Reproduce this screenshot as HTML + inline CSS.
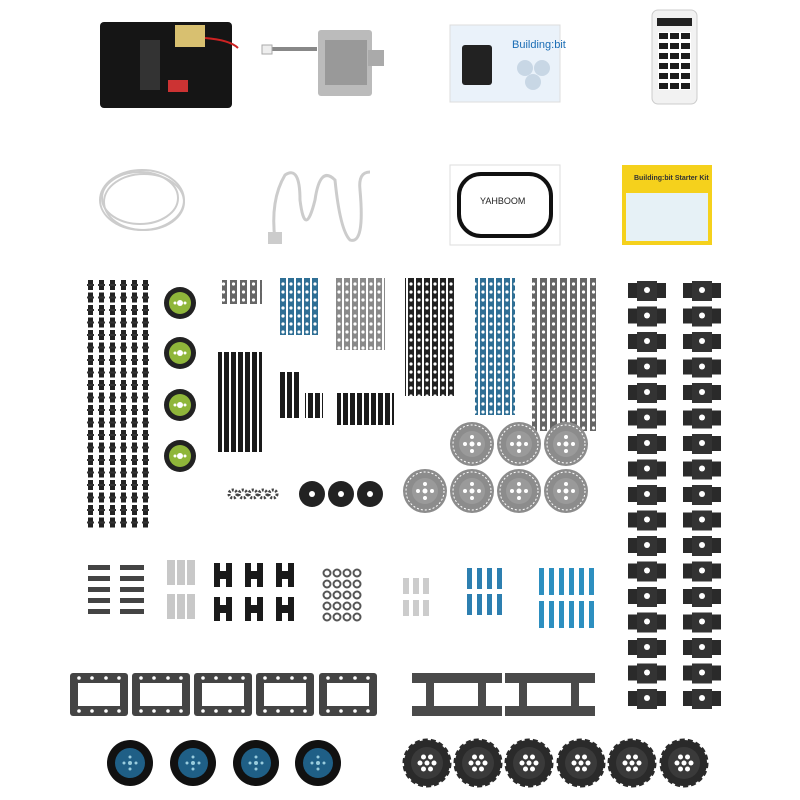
<!DOCTYPE html>
<html><head><meta charset="utf-8"><style>html,body{margin:0;padding:0;background:#fff}svg{display:block}</style></head><body>
<svg width="800" height="800" viewBox="0 0 800 800" xmlns="http://www.w3.org/2000/svg" font-family="Liberation Sans, sans-serif">
<defs>
<pattern id="pins" x="85" y="280" width="11" height="12.5" patternUnits="userSpaceOnUse"><rect x="3" y="0" width="5" height="10" fill="#222"/><rect x="2" y="4" width="7" height="2" fill="#333"/></pattern>
<pattern id="conn" x="625" y="280" width="55" height="25.5" patternUnits="userSpaceOnUse"><rect x="3" y="3" width="38" height="15" fill="#2a2a2a"/><rect x="12" y="1" width="20" height="20" fill="#333"/><circle cx="22" cy="10" r="3" fill="#fff"/></pattern>
<pattern id="beamG" width="8" height="8" patternUnits="userSpaceOnUse"><rect width="6" height="8" fill="#8a8a8a"/><circle cx="3" cy="4" r="1.6" fill="#fff"/></pattern>
<pattern id="beamB" width="8" height="8" patternUnits="userSpaceOnUse"><rect width="6" height="8" fill="#2f6f95"/><circle cx="3" cy="4" r="1.6" fill="#fff"/></pattern>
<pattern id="beamK" width="8" height="8" patternUnits="userSpaceOnUse"><rect width="6" height="8" fill="#222"/><circle cx="3" cy="4" r="1.6" fill="#fff"/></pattern>
<pattern id="beamD" width="10" height="8" patternUnits="userSpaceOnUse"><rect width="7" height="8" fill="#666"/><circle cx="3.5" cy="4" r="1.6" fill="#fff"/></pattern>
<pattern id="rods" width="7" height="10" patternUnits="userSpaceOnUse"><rect width="5" height="10" fill="#1a1a1a"/></pattern>
<pattern id="nuts" x="322" y="568" width="10" height="11" patternUnits="userSpaceOnUse"><circle cx="5" cy="5" r="3.5" fill="none" stroke="#555" stroke-width="2"/></pattern>
<pattern id="bpin" x="465" y="568" width="10" height="26" patternUnits="userSpaceOnUse"><rect x="2" y="0" width="5" height="21" fill="#2d7fb0"/></pattern>
<pattern id="bpin2" x="537" y="568" width="10" height="33" patternUnits="userSpaceOnUse"><rect x="2" y="0" width="5" height="27" fill="#2d8fc0"/></pattern>
<g id="gear"><circle r="22" fill="#8c8c8c"/><circle r="19" fill="none" stroke="#fff" stroke-width="1" stroke-dasharray="2 2"/><circle r="13" fill="#9a9a9a"/><circle r="2.5" fill="#fff"/><circle cx="7" r="2" fill="#fff"/><circle cx="-7" r="2" fill="#fff"/><circle cy="7" r="2" fill="#fff"/><circle cy="-7" r="2" fill="#fff"/></g>
<g id="frame"><rect width="58" height="43" rx="3" fill="#444"/><rect x="8" y="10" width="42" height="23" fill="#fff"/><g fill="#fff"><circle cx="9" cy="5" r="1.8"/><circle cx="22" cy="5" r="1.8"/><circle cx="36" cy="5" r="1.8"/><circle cx="49" cy="5" r="1.8"/><circle cx="9" cy="38" r="1.8"/><circle cx="22" cy="38" r="1.8"/><circle cx="36" cy="38" r="1.8"/><circle cx="49" cy="38" r="1.8"/></g></g>
<g id="hframe"><rect width="90" height="10" fill="#4a4a4a"/><rect y="33" width="90" height="10" fill="#4a4a4a"/><rect x="14" width="8" height="43" fill="#4a4a4a"/><rect x="66" width="8" height="43" fill="#4a4a4a"/></g>
<g id="btire"><circle r="23" fill="#111"/><circle r="15" fill="#1f5f86"/><circle r="2" fill="#9cd"/><circle cx="6" r="1.5" fill="#9cd"/><circle cx="-6" r="1.5" fill="#9cd"/><circle cy="-6" r="1.5" fill="#9cd"/><circle cy="6" r="1.5" fill="#9cd"/></g>
<g id="kwheel"><circle r="23" fill="#2a2a2a" stroke="#2a2a2a" stroke-width="3" stroke-dasharray="5 3"/><circle r="16" fill="#3a3a3a"/><circle r="2.5" fill="#fff"/><circle cx="7" r="2.5" fill="#fff"/><circle cx="-7" r="2.5" fill="#fff"/><circle cx="3.5" cy="6" r="2.5" fill="#fff"/><circle cx="-3.5" cy="-6" r="2.5" fill="#fff"/><circle cx="3.5" cy="-6" r="2.5" fill="#fff"/><circle cx="-3.5" cy="6" r="2.5" fill="#fff"/></g>
<g id="gwheel"><circle r="16" fill="#222"/><circle r="11" fill="#8fb63a"/><circle r="3" fill="#fff"/><circle cx="5" r="1.5" fill="#fff"/><circle cx="-5" r="1.5" fill="#fff"/></g>
</defs>
<rect width="800" height="800" fill="#fff"/>
<rect x="100" y="22" width="132" height="86" rx="4" fill="#151515"/>
<rect x="175" y="25" width="30" height="22" fill="#d8c070"/>
<rect x="140" y="40" width="20" height="50" fill="#333"/>
<rect x="168" y="80" width="20" height="12" fill="#c33"/>
<path d="M205 38 Q230 40 238 48" stroke="#c22" stroke-width="2" fill="none"/>
<rect x="262" y="47" width="55" height="4" fill="#888"/><rect x="262" y="45" width="10" height="9" fill="#eee" stroke="#aaa"/>
<rect x="318" y="30" width="54" height="66" rx="3" fill="#bbb"/><rect x="325" y="40" width="42" height="45" fill="#999"/><rect x="368" y="50" width="16" height="16" fill="#aaa"/>
<rect x="450" y="25" width="110" height="77" fill="#eaf2fa" stroke="#ddd"/>
<rect x="462" y="45" width="30" height="40" rx="3" fill="#222"/>
<text x="512" y="48" font-size="11" fill="#1a6db5">Building:bit</text>
<g fill="#bcd" opacity=".7"><circle cx="525" cy="68" r="8"/><circle cx="542" cy="68" r="8"/><circle cx="533" cy="82" r="8"/></g>
<rect x="652" y="10" width="45" height="94" rx="6" fill="#f2f2f2" stroke="#ccc"/>
<g fill="#222"><rect x="657" y="18" width="35" height="8"/><rect x="658" y="32" width="33" height="58" fill="#fff"/></g>
<g fill="#1c1c1c">
<rect x="659" y="33" width="9" height="6"/><rect x="670" y="33" width="9" height="6"/><rect x="681" y="33" width="9" height="6"/>
<rect x="659" y="43" width="9" height="6"/><rect x="670" y="43" width="9" height="6"/><rect x="681" y="43" width="9" height="6"/>
<rect x="659" y="53" width="9" height="6"/><rect x="670" y="53" width="9" height="6"/><rect x="681" y="53" width="9" height="6"/>
<rect x="659" y="63" width="9" height="6"/><rect x="670" y="63" width="9" height="6"/><rect x="681" y="63" width="9" height="6"/>
<rect x="659" y="73" width="9" height="6"/><rect x="670" y="73" width="9" height="6"/><rect x="681" y="73" width="9" height="6"/>
<rect x="659" y="83" width="9" height="6"/><rect x="670" y="83" width="9" height="6"/><rect x="681" y="83" width="9" height="6"/></g>
<g fill="none" stroke="#ccc" stroke-width="2"><ellipse cx="142" cy="200" rx="42" ry="30"/><ellipse cx="140" cy="198" rx="38" ry="26"/><ellipse cx="144" cy="202" rx="40" ry="28"/></g>
<path d="M275 240 Q270 200 285 175 Q300 165 300 200 Q305 240 315 200 Q320 165 335 180 Q340 230 350 240 Q365 245 360 190 Q358 172 370 172" fill="none" stroke="#ccc" stroke-width="3"/>
<rect x="268" y="232" width="14" height="12" fill="#ccc"/>
<rect x="450" y="165" width="110" height="80" fill="#fff" stroke="#ddd"/>
<rect x="459" y="174" width="92" height="62" rx="22" fill="none" stroke="#111" stroke-width="4"/>
<text x="480" y="204" font-size="9" fill="#222">YAHBOOM</text>
<rect x="622" y="165" width="90" height="80" fill="#f5d11c"/>
<rect x="626" y="193" width="82" height="48" fill="#e6f1f6"/>
<text x="634" y="180" font-size="7" font-weight="bold" fill="#333">Building:bit Starter Kit</text>
<rect x="85" y="280" width="66" height="250" fill="url(#pins)"/>
<use href="#gwheel" x="180" y="303"/><use href="#gwheel" x="180" y="353"/><use href="#gwheel" x="180" y="405"/><use href="#gwheel" x="180" y="456"/>
<rect x="222" y="280" width="40" height="24" fill="url(#beamD)"/>
<rect x="278" y="278" width="40" height="57" fill="url(#beamB)"/>
<rect x="335" y="278" width="50" height="72" fill="url(#beamG)"/>
<rect x="405" y="278" width="50" height="118" fill="url(#beamK)"/>
<rect x="475" y="278" width="40" height="137" fill="url(#beamB)"/>
<rect x="532" y="278" width="64" height="153" fill="url(#beamD)"/>
<rect x="218" y="352" width="44" height="100" fill="url(#rods)"/>
<rect x="280" y="372" width="19" height="46" fill="url(#rods)"/>
<rect x="305" y="393" width="18" height="25" fill="url(#rods)"/>
<rect x="337" y="393" width="57" height="32" fill="url(#rods)"/>
<rect x="625" y="280" width="100" height="430" fill="url(#conn)"/>
<use href="#gear" x="472" y="444"/><use href="#gear" x="519" y="444"/><use href="#gear" x="566" y="444"/>
<use href="#gear" x="425" y="491"/><use href="#gear" x="472" y="491"/><use href="#gear" x="519" y="491"/><use href="#gear" x="566" y="491"/>
<g fill="#222"><circle cx="312" cy="494" r="13"/><circle cx="341" cy="494" r="13"/><circle cx="370" cy="494" r="13"/></g>
<g fill="#fff"><circle cx="312" cy="494" r="3"/><circle cx="341" cy="494" r="3"/><circle cx="370" cy="494" r="3"/></g>
<g fill="none" stroke="#444" stroke-width="3" stroke-dasharray="2 1.5"><circle cx="233" cy="494" r="4"/><circle cx="243" cy="494" r="4"/><circle cx="253" cy="494" r="4"/><circle cx="263" cy="494" r="4"/><circle cx="273" cy="494" r="4"/></g>
<g fill="#444"><rect x="88" y="565" width="22" height="5"/><rect x="88" y="576" width="22" height="5"/><rect x="88" y="587" width="22" height="5"/><rect x="88" y="598" width="22" height="5"/><rect x="88" y="609" width="22" height="5"/>
<rect x="120" y="565" width="24" height="5"/><rect x="120" y="576" width="24" height="5"/><rect x="120" y="587" width="24" height="5"/><rect x="120" y="598" width="24" height="5"/><rect x="120" y="609" width="24" height="5"/></g>
<g fill="#c8c8c8"><rect x="167" y="560" width="8" height="25"/><rect x="177" y="560" width="8" height="25"/><rect x="187" y="560" width="8" height="25"/><rect x="167" y="594" width="8" height="25"/><rect x="177" y="594" width="8" height="25"/><rect x="187" y="594" width="8" height="25"/></g>
<g fill="#1a1a1a">
<rect x="214" y="563" width="6" height="24"/><rect x="226" y="563" width="6" height="24"/><rect x="214" y="571" width="18" height="8"/>
<rect x="245" y="563" width="6" height="24"/><rect x="257" y="563" width="6" height="24"/><rect x="245" y="571" width="18" height="8"/>
<rect x="276" y="563" width="6" height="24"/><rect x="288" y="563" width="6" height="24"/><rect x="276" y="571" width="18" height="8"/>
<rect x="214" y="597" width="6" height="24"/><rect x="226" y="597" width="6" height="24"/><rect x="214" y="605" width="18" height="8"/>
<rect x="245" y="597" width="6" height="24"/><rect x="257" y="597" width="6" height="24"/><rect x="245" y="605" width="18" height="8"/>
<rect x="276" y="597" width="6" height="24"/><rect x="288" y="597" width="6" height="24"/><rect x="276" y="605" width="18" height="8"/></g>
<rect x="322" y="568" width="40" height="55" fill="url(#nuts)"/>
<g fill="#ccc"><rect x="403" y="578" width="6" height="16"/><rect x="413" y="578" width="6" height="16"/><rect x="423" y="578" width="6" height="16"/><rect x="403" y="600" width="6" height="16"/><rect x="413" y="600" width="6" height="16"/><rect x="423" y="600" width="6" height="16"/></g>
<rect x="465" y="568" width="40" height="50" fill="url(#bpin)"/>
<rect x="537" y="568" width="60" height="63" fill="url(#bpin2)"/>
<use href="#frame" x="70" y="673"/><use href="#frame" x="132" y="673"/><use href="#frame" x="194" y="673"/><use href="#frame" x="256" y="673"/><use href="#frame" x="319" y="673"/>
<use href="#hframe" x="412" y="673"/><use href="#hframe" x="505" y="673"/>
<use href="#btire" x="130" y="763"/><use href="#btire" x="193" y="763"/><use href="#btire" x="256" y="763"/><use href="#btire" x="318" y="763"/>
<use href="#kwheel" x="427" y="763"/><use href="#kwheel" x="478" y="763"/><use href="#kwheel" x="529" y="763"/><use href="#kwheel" x="581" y="763"/><use href="#kwheel" x="632" y="763"/><use href="#kwheel" x="684" y="763"/>
</svg>
</body></html>
